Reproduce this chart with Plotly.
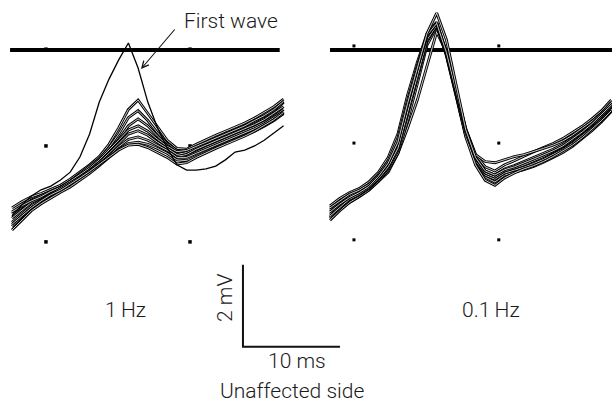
import plotly.graph_objects as go

# ---------------- data (time in ms, amplitude in mV) ----------------
t_left = list(range(0, 29))    # 0..28 ms, 1 Hz panel
t_right = list(range(0, 30))   # 0..29 ms, 0.1 Hz panel

first_wave = [-4.05, -3.78, -3.56, -3.41, -3.32, -3.17, -2.98, -2.61, -2.05, -1.27,
              -0.71, -0.24, 0.17, -0.44, -1.27, -1.90, -2.39, -2.80, -2.93, -2.93,
              -2.90, -2.83, -2.68, -2.49, -2.44, -2.34, -2.20, -2.02, -1.85]

left_c1 = [-3.85, -3.70, -3.58, -3.50, -3.40, -3.30, -3.15, -2.98, -2.80, -2.60, -2.30, -1.90, -1.45, -1.22, -1.55,
           -1.90, -2.20, -2.40, -2.42, -2.30, -2.18, -2.08, -1.98, -1.88, -1.78, -1.66, -1.52, -1.38, -1.20]
left_c2 = [-4.00, -3.82, -3.66, -3.55, -3.44, -3.34, -3.20, -3.02, -2.85, -2.65, -2.38, -2.05, -1.65, -1.48, -1.72,
           -2.02, -2.28, -2.45, -2.50, -2.38, -2.27, -2.15, -2.05, -1.95, -1.85, -1.75, -1.62, -1.48, -1.28]
left_c3 = [-4.10, -3.90, -3.72, -3.60, -3.46, -3.36, -3.22, -3.06, -2.90, -2.70, -2.46, -2.18, -1.85, -1.68, -1.85,
           -2.10, -2.32, -2.50, -2.55, -2.42, -2.32, -2.22, -2.12, -2.02, -1.92, -1.82, -1.70, -1.55, -1.38]
left_c4 = [-3.95, -3.80, -3.68, -3.58, -3.45, -3.35, -3.20, -3.05, -2.88, -2.68, -2.45, -2.20, -1.95, -1.85, -1.98,
           -2.18, -2.35, -2.48, -2.45, -2.35, -2.25, -2.15, -2.05, -1.95, -1.85, -1.72, -1.60, -1.45, -1.25]
left_c5 = [-4.20, -4.00, -3.80, -3.66, -3.52, -3.40, -3.26, -3.10, -2.93, -2.74, -2.52, -2.28, -2.05, -1.97, -2.08,
           -2.25, -2.40, -2.55, -2.60, -2.48, -2.38, -2.28, -2.18, -2.08, -1.98, -1.88, -1.76, -1.62, -1.45]
left_c6 = [-4.30, -4.08, -3.86, -3.70, -3.55, -3.43, -3.30, -3.14, -2.97, -2.78, -2.58, -2.36, -2.18, -2.12, -2.20,
           -2.32, -2.45, -2.62, -2.62, -2.52, -2.42, -2.32, -2.22, -2.12, -2.02, -1.92, -1.80, -1.66, -1.50]
left_c7 = [-4.39, -4.15, -3.92, -3.75, -3.60, -3.47, -3.34, -3.18, -3.01, -2.82, -2.62, -2.42, -2.28, -2.25, -2.30,
           -2.40, -2.52, -2.68, -2.70, -2.58, -2.48, -2.38, -2.28, -2.18, -2.08, -1.98, -1.86, -1.72, -1.55]
left_c8 = [-4.25, -4.05, -3.85, -3.68, -3.53, -3.42, -3.28, -3.12, -2.96, -2.78, -2.60, -2.44, -2.32, -2.30, -2.38,
           -2.50, -2.62, -2.78, -2.75, -2.62, -2.50, -2.40, -2.30, -2.20, -2.10, -1.98, -1.85, -1.70, -1.52]
left_cluster = [left_c1, left_c2, left_c3, left_c4, left_c5, left_c6, left_c7, left_c8]

right_b1 = [-3.80, -3.62, -3.48, -3.38, -3.22, -2.98, -2.62, -2.05, -1.10, -0.30, 0.40, 0.68, -0.05, -0.98, -1.92,
            -2.55, -2.85, -2.95, -2.80, -2.70, -2.58, -2.48, -2.38, -2.28, -2.16, -2.02, -1.86, -1.68, -1.48, -1.22]
right_b2 = [-3.90, -3.72, -3.56, -3.45, -3.30, -3.06, -2.74, -2.22, -1.30, -0.45, 0.33, 0.66, -0.10, -1.06, -2.02,
            -2.64, -2.95, -3.05, -2.90, -2.82, -2.72, -2.62, -2.52, -2.42, -2.30, -2.14, -1.97, -1.78, -1.57, -1.32]
right_b3 = [-4.00, -3.80, -3.62, -3.50, -3.35, -3.12, -2.82, -2.35, -1.45, -0.58, 0.27, 0.62, -0.14, -1.12, -2.10,
            -2.70, -3.00, -3.10, -2.95, -2.88, -2.80, -2.70, -2.60, -2.48, -2.36, -2.20, -2.02, -1.83, -1.62, -1.38]
right_b4 = [-4.08, -3.86, -3.66, -3.53, -3.38, -3.16, -2.88, -2.45, -1.60, -0.70, 0.20, 0.60, -0.08, -1.05, -2.05,
            -2.72, -3.05, -3.15, -3.00, -2.93, -2.86, -2.77, -2.67, -2.55, -2.43, -2.28, -2.10, -1.90, -1.68, -1.45]
right_b5 = [-4.15, -3.92, -3.72, -3.57, -3.42, -3.20, -2.93, -2.52, -1.72, -0.82, 0.12, 0.56, -0.02, -0.98, -2.00,
            -2.75, -3.10, -3.22, -3.05, -2.98, -2.92, -2.84, -2.74, -2.62, -2.50, -2.35, -2.17, -1.97, -1.75, -1.50]
right_b6 = [-3.85, -3.68, -3.52, -3.42, -3.28, -3.04, -2.70, -2.15, -1.22, -0.38, 0.36, 0.65, -0.06, -1.00, -1.95,
            -2.55, -2.72, -2.75, -2.68, -2.60, -2.55, -2.48, -2.40, -2.32, -2.22, -2.08, -1.92, -1.74, -1.54, -1.28]
right_b7 = [-4.05, -3.84, -3.64, -3.52, -3.36, -3.14, -2.85, -2.40, -1.52, -0.62, 0.25, 0.60, -0.12, -1.10, -2.12,
            -2.80, -3.18, -3.30, -3.12, -3.00, -2.90, -2.82, -2.72, -2.60, -2.47, -2.32, -2.14, -1.94, -1.72, -1.48]
right_tall = [-3.95, -3.76, -3.60, -3.48, -3.33, -3.08, -2.76, -2.25, -1.30, -0.45, 0.40, 0.90, 0.25, -0.85, -1.95,
              -2.62, -2.95, -3.05, -2.92, -2.85, -2.76, -2.66, -2.56, -2.46, -2.34, -2.18, -2.00, -1.80, -1.58, -1.34]
right_late = [-4.10, -3.90, -3.72, -3.58, -3.42, -3.20, -2.98, -2.52, -1.90, -1.22, -0.40, 0.44, -0.05, -1.02, -2.00,
              -2.66, -2.98, -3.08, -2.96, -2.90, -2.82, -2.74, -2.64, -2.52, -2.40, -2.25, -2.07, -1.87, -1.65, -1.40]
right_cluster = [right_late, right_b5, right_b4, right_b3, right_b7, right_b2, right_b1, right_b6, right_tall]

# reference (baseline) line extents and dot grid
ref_left_t = [-0.2, 27.6]
ref_right_t = [0.0, 29.1]
ref_mv = [0.0, 0.0]
dots_left_t = [3.5, 18.35]
dots_left_mv = [0.02, -2.34, -4.68]
dots_right_t = [2.47, 17.4]
dots_right_mv = [0.10, -2.27, -4.63]

# scale bar: 10 ms x 2 mV
bar_t = [23.81, 23.81, 33.81]
bar_mv = [-5.24, -7.24, -7.24]

FONT = "Roboto, 'Open Sans', sans-serif"
TXT = "#1a1a1a"

fig = go.Figure()


def add_outlined(t, v, xaxis):
    fig.add_trace(go.Scatter(x=t, y=v, mode="lines", xaxis=xaxis, yaxis="y",
                             line=dict(color="black", width=2.8), hoverinfo="skip", showlegend=False))
    fig.add_trace(go.Scatter(x=t, y=v, mode="lines", xaxis=xaxis, yaxis="y",
                             line=dict(color="white", width=0.8), hoverinfo="skip", showlegend=False))


# baselines
fig.add_trace(go.Scatter(x=ref_left_t, y=ref_mv, mode="lines", xaxis="x", yaxis="y",
                         line=dict(color="black", width=4), showlegend=False, hoverinfo="skip"))
fig.add_trace(go.Scatter(x=ref_right_t, y=ref_mv, mode="lines", xaxis="x2", yaxis="y",
                         line=dict(color="black", width=4), showlegend=False, hoverinfo="skip"))

# dot grids
fig.add_trace(go.Scatter(x=[t for t in dots_left_t for _ in dots_left_mv],
                         y=[v for _ in dots_left_t for v in dots_left_mv],
                         mode="markers", xaxis="x", yaxis="y",
                         marker=dict(symbol="square", size=3.5, color="black"), showlegend=False, hoverinfo="skip"))
fig.add_trace(go.Scatter(x=[t for t in dots_right_t for _ in dots_right_mv],
                         y=[v for _ in dots_right_t for v in dots_right_mv],
                         mode="markers", xaxis="x2", yaxis="y",
                         marker=dict(symbol="square", size=3, color="black"), showlegend=False, hoverinfo="skip"))

# left panel traces
for tr in left_cluster:
    add_outlined(t_left, tr, "x")
fig.add_trace(go.Scatter(x=t_left, y=first_wave, mode="lines", xaxis="x", yaxis="y",
                         line=dict(color="black", width=1.3), showlegend=False, hoverinfo="skip"))

# right panel traces
for tr in right_cluster:
    add_outlined(t_right, tr, "x2")

# scale bar
fig.add_trace(go.Scatter(x=bar_t, y=bar_mv, mode="lines", xaxis="x", yaxis="y",
                         line=dict(color="#111", width=2), showlegend=False, hoverinfo="skip"))

W, H = 612, 408


def px(xp, yp):
    return xp / W, 1 - yp / H


annos = []
for text, (x, y), ang in [("First wave", px(231, 21), 0),
                          ("1\u2009Hz", px(125, 310), 0),
                          ("0.1\u2009Hz", px(491, 310), 0),
                          ("2 mV", px(225, 298), -90),
                          ("10 ms", px(297, 361), 0),
                          ("Unaffected side", px(292, 391), 0)]:
    annos.append(dict(text=text, x=x, y=y, xref="paper", yref="paper", showarrow=False,
                      xanchor="center", yanchor="middle", textangle=ang,
                      font=dict(family=FONT, size=21, color=TXT, weight=300)))

hx, hy = px(141, 69)
annos.append(dict(text="", x=hx, y=hy, xref="paper", yref="paper", showarrow=True,
                  ax=35, ay=-41, arrowhead=5, arrowsize=1.2, arrowwidth=1.1, arrowcolor="#111"))

fig.update_layout(
    width=W, height=H, margin=dict(l=0, r=0, t=0, b=0),
    paper_bgcolor="white", plot_bgcolor="white",
    xaxis=dict(domain=[0, 1], range=[-1.2371, 61.856], visible=False, fixedrange=True),
    xaxis2=dict(domain=[0, 1], range=[-34.021, 29.072], visible=False, overlaying="x",
                anchor="y", fixedrange=True),
    yaxis=dict(domain=[0, 1], range=[-8.7317, 1.2195], visible=False, fixedrange=True),
    annotations=annos,
    showlegend=False,
)

fig.write_html("out.html", config={"displayModeBar": False},
               post_script="document.body.style.margin='0';document.body.style.overflow='hidden';")
